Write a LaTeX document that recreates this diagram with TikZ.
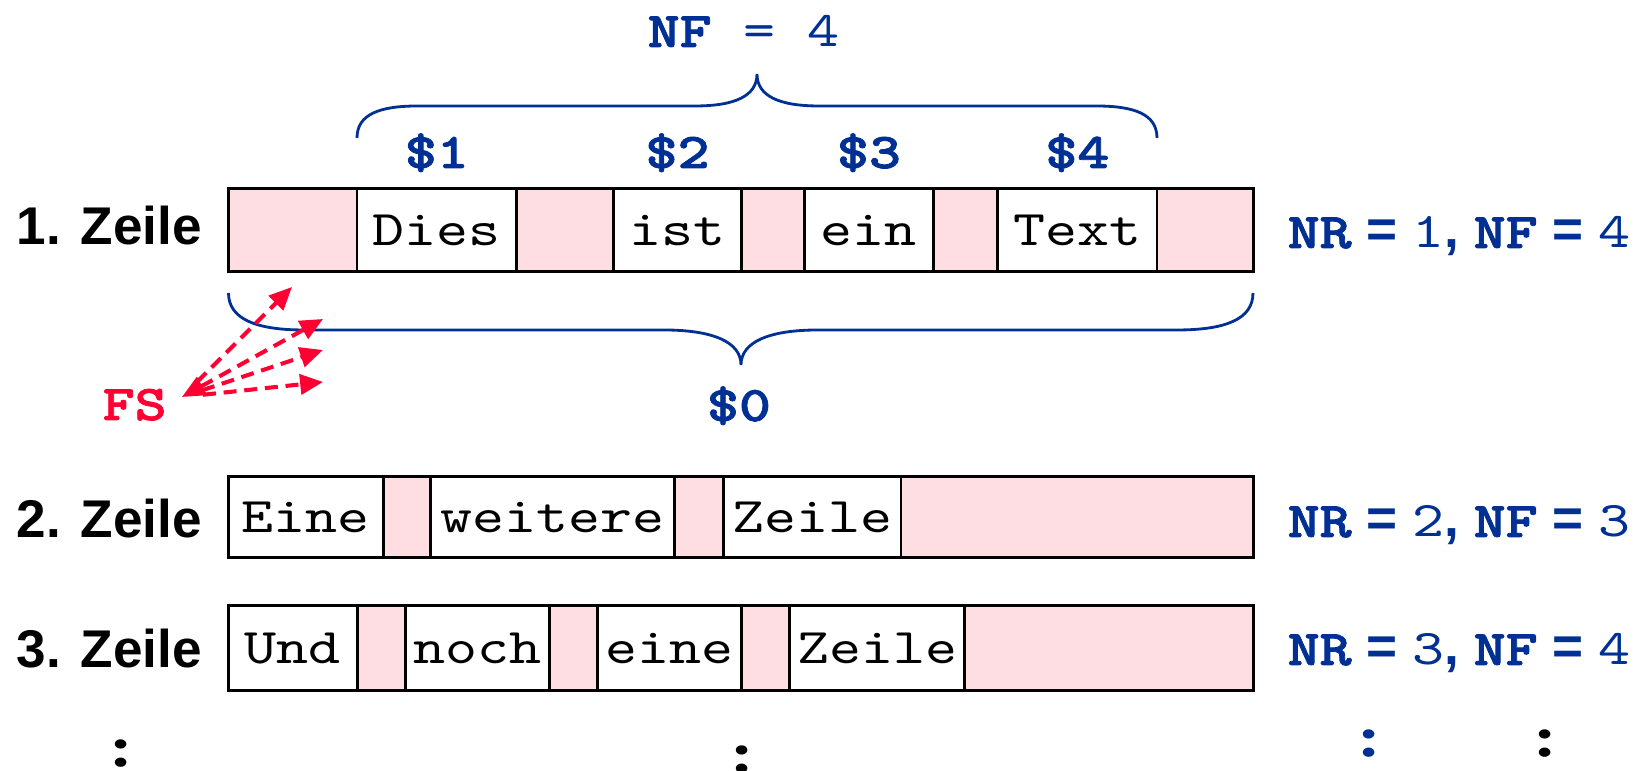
\documentclass[tikz,border=0pt]{standalone}
\usepackage{fontspec}
\setmainfont{Liberation Sans}
\newfontfamily\cour{lmmono10-regular}[Extension=.otf,BoldFont=lmmonolt10-bold,
  BoldFeatures={FakeBold=1.6},FakeStretch=1.22]
\newfontfamily\tms{Liberation Serif}
\usetikzlibrary{arrows.meta}
\definecolor{awkblue}{RGB}{0,48,148}
\definecolor{seppink}{RGB}{255,222,227}
\definecolor{fsred}{RGB}{255,0,51}
\newcommand\monosize{\fontsize{14.2}{17}\selectfont}

\begin{document}
\begin{tikzpicture}[x=0.01cm,y=-0.01cm,
  cell/.style={draw=black,line width=0.85pt,rectangle,inner sep=0pt,outer sep=0pt,
    font=\cour\monosize,text height=9.1pt,text depth=0pt},
  rowlab/.style={font=\bfseries\fontsize{15.1}{18}\selectfont,anchor=base west,inner sep=0pt},
  field/.style={font=\cour\bfseries\monosize,text=awkblue,anchor=base,inner sep=0pt},
  info/.style={font=\bfseries\fontsize{15.1}{18}\selectfont,text=awkblue,anchor=base west,inner sep=0pt},
  brace/.style={draw=awkblue,line width=0.8pt},
  fslab/.style={font=\cour\bfseries\monosize,text=fsred,anchor=base west,inner sep=0pt},
  fsarrow/.style={draw=fsred,line width=1.15pt,dash pattern=on 3.7pt off 2.2pt,
    -{Triangle[length=6.5pt,width=5.7pt]}},
  vdots/.style={font=\tms\bfseries\fontsize{17.6}{20}\selectfont,anchor=center,inner sep=0pt}
]
\useasboundingbox (0,0) rectangle (1641,771);

% record 1: separators (pink) and fields (white)
\foreach \a/\b/\f/\t [count=\i] in {228.5/357/seppink/{},357/516.7/white/Dies,
    516.7/613.5/seppink/{},613.5/741.6/white/ist,741.6/804.4/seppink/{},
    804.4/933.5/white/ein,933.5/997.8/seppink/{},997.8/1157/white/Text,1157/1253/seppink/{}}{
  \pgfmathsetmacro\w{(\b-\a)*0.01}
  \node[cell,fill=\f,minimum width=\w cm,minimum height=0.82cm] (r1c\i) at ({(\a+\b)/2},230) {\t};
}
% record 2
\foreach \a/\b/\f/\t [count=\i] in {228.5/383.4/white/Eine,383.4/430.4/seppink/{},
    430.4/674.7/white/weitere,674.7/723.3/seppink/{},723.3/901/white/Zeile,901/1253/seppink/{}}{
  \pgfmathsetmacro\w{(\b-\a)*0.01}
  \node[cell,fill=\f,minimum width=\w cm,minimum height=0.80cm] (r2c\i) at ({(\a+\b)/2},517) {\t};
}
% record 3
\foreach \a/\b/\f/\t [count=\i] in {228.5/357.2/white/Und,357.2/405.3/seppink/{},
    405.3/549.2/white/noch,549.2/597.3/seppink/{},597.3/741.6/white/eine,
    741.6/789.7/seppink/{},789.7/964.9/white/Zeile,964.9/1253/seppink/{}}{
  \pgfmathsetmacro\w{(\b-\a)*0.01}
  \node[cell,fill=\f,minimum width=\w cm,minimum height=0.84cm] (r3c\i) at ({(\a+\b)/2},648) {\t};
}

% row labels
\node[rowlab] (z1) at (16,245) {1. Zeile};
\node[rowlab] (z2) at (16,538) {2. Zeile};
\node[rowlab] (z3) at (16,668) {3. Zeile};

% record variables
\node[info] (v1) at (1287,248) {{\cour\monosize NR} = {\cour\monosize\mdseries 1}, {\cour\monosize NF} = {\cour\monosize\mdseries 4}};
\node[info] (v2) at (1287,537) {{\cour\monosize NR} = {\cour\monosize\mdseries 2}, {\cour\monosize NF} = {\cour\monosize\mdseries 3}};
\node[info] (v3) at (1287,665) {{\cour\monosize NR} = {\cour\monosize\mdseries 3}, {\cour\monosize NF} = {\cour\monosize\mdseries 4}};

% field labels
\node[field] (d1) at (r1c2 |- 0,168) {\$1};
\node[field] (d2) at (r1c4 |- 0,168) {\$2};
\node[field] (d3) at (r1c6 |- 0,168) {\$3};
\node[field] (d4) at (r1c8 |- 0,168) {\$4};
\node[field] (d0) at (739,421) {\$0};
\node[field,anchor=base west] (nf) at (647,47) {NF {\mdseries= 4}};

% brace over the fields
\draw[brace] (357,138) .. controls (357,114) and (380,106) .. (418,106)
  -- (695,106) .. controls (735,106) and (757,96) .. (757,74)
  .. controls (757,96) and (779,106) .. (819,106)
  -- (1096,106) .. controls (1134,106) and (1157,114) .. (1157,138);
% brace under the whole record
\draw[brace] (228.5,293) .. controls (228.5,319) and (256,330) .. (304,330)
  -- (664,330) .. controls (713,330) and (741,342) .. (741,365)
  .. controls (741,342) and (769,330) .. (818,330)
  -- (1177,330) .. controls (1226,330) and (1253,319) .. (1253,293);

% field separator
\node[fslab] (fs) at (102,420) {FS};
\coordinate (fsorg) at (182,397);
\coordinate (t1) at (292,287);
\coordinate (t2) at (323,319);
\coordinate (t3) at (323,350);
\coordinate (t4) at (323,382);
\draw[fsarrow,shorten <=6pt] (fsorg) -- (t1);
\draw[fsarrow,{Triangle[length=6.5pt,width=5.7pt]}-{Triangle[length=6.5pt,width=5.7pt]}] (fsorg) -- (t2);
\draw[fsarrow,shorten <=6pt] (fsorg) -- (t3);
\draw[fsarrow,shorten <=6pt] (fsorg) -- (t4);

% continuation marks
\node[vdots] (c1) at (121,753.5) {\scalebox{1.15}[0.92]{:}};
\node[vdots] (c2) at (742,760) {\scalebox{1.15}[0.92]{:}};
\node[vdots,text=awkblue] (c3) at (1369,743.5) {\scalebox{1.15}[0.92]{:}};
\node[vdots] (c4) at (1545,743.5) {\scalebox{1.15}[0.92]{:}};
\end{tikzpicture}
\end{document}
